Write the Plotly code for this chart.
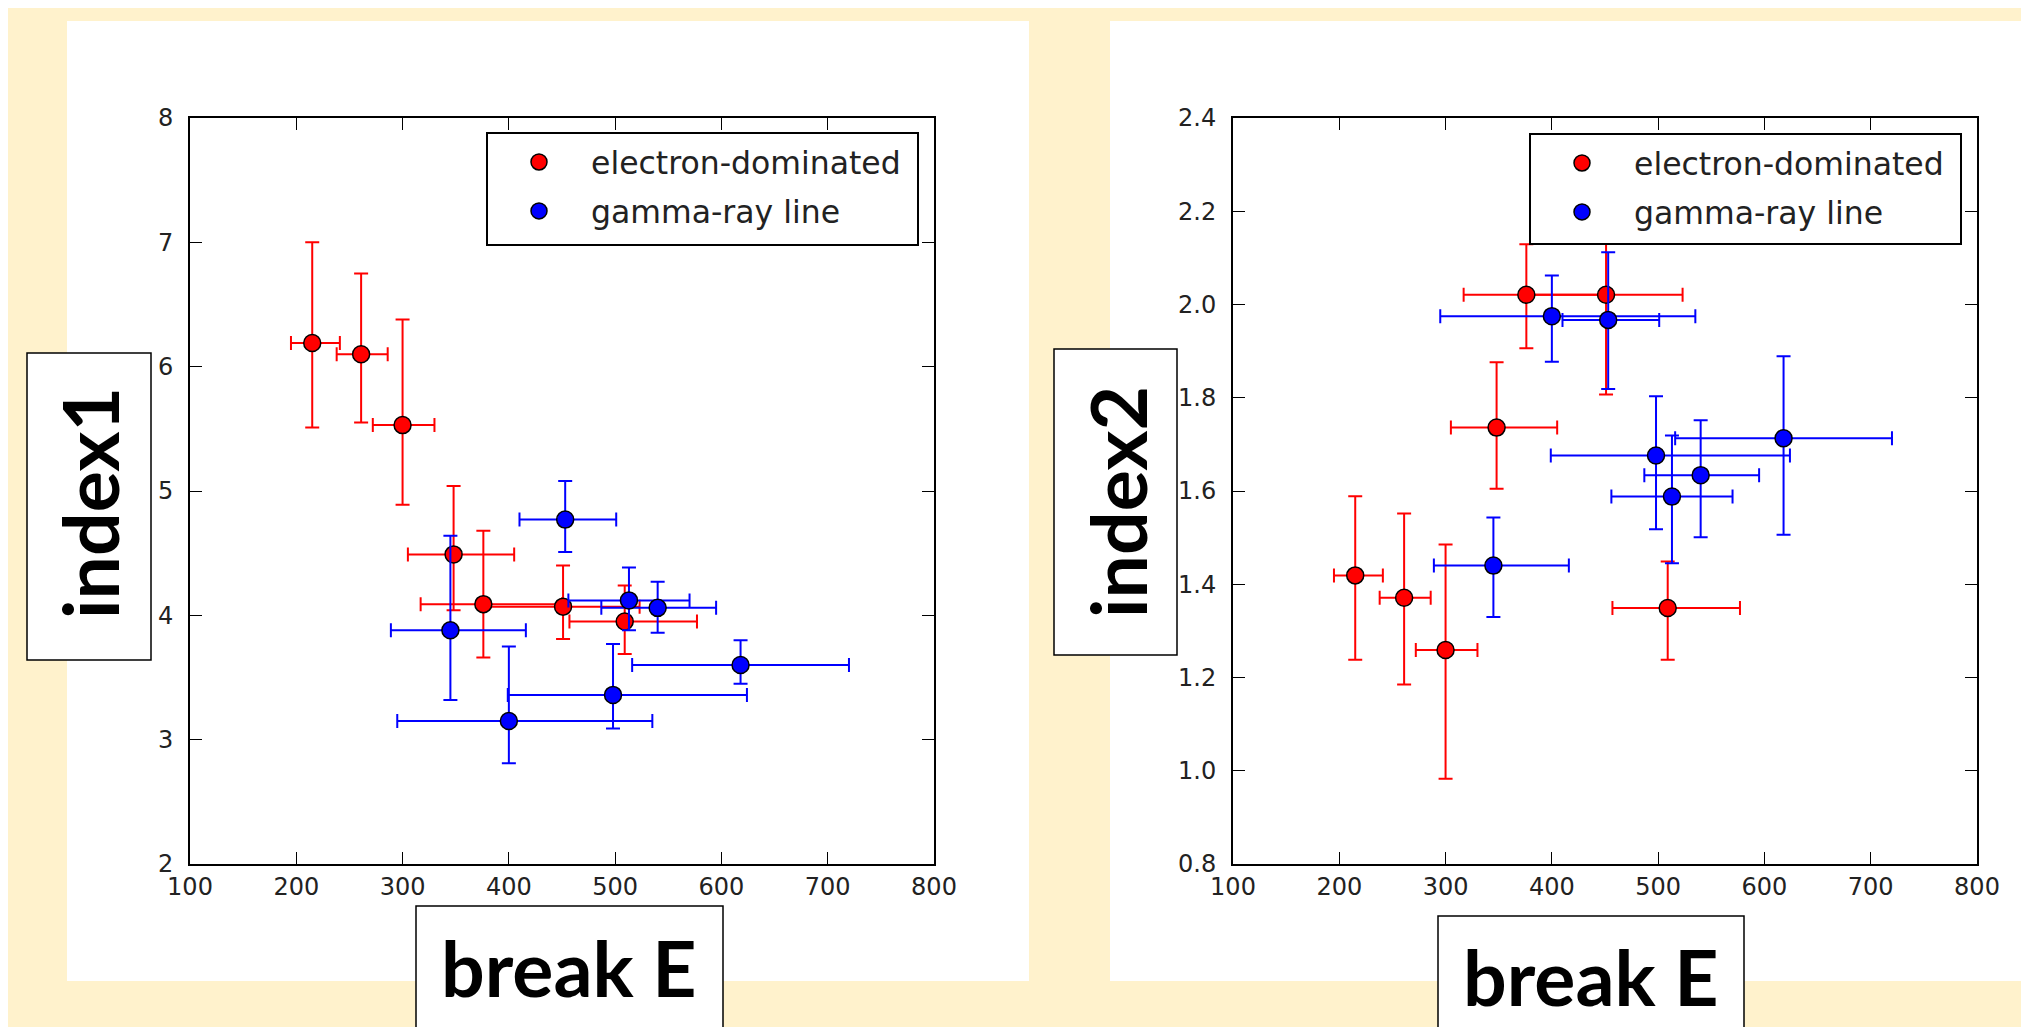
import plotly.graph_objects as go

W, H = 2029, 1027
OFF = 8  # page body margin of the exported html

# ---------------- data ----------------
series_names = ["electron-dominated", "gamma-ray line"]

breakE_red = [215, 261, 300, 348, 376, 451, 509]
breakE_red_minus = [20, 23, 28, 43, 59, 75, 52]
breakE_red_plus = [26, 25, 30, 57, 74, 72, 68]

index1_red = [6.19, 6.10, 5.53, 4.49, 4.09, 4.07, 3.95]
index1_red_plus = [0.81, 0.65, 0.85, 0.55, 0.59, 0.33, 0.29]
index1_red_minus = [0.68, 0.55, 0.64, 0.45, 0.43, 0.26, 0.26]

index2_red = [1.419, 1.371, 1.259, 1.736, 2.021, 2.021, 1.349]
index2_red_plus = [0.170, 0.181, 0.226, 0.140, 0.108, 0.20, 0.100]
index2_red_minus = [0.181, 0.186, 0.276, 0.131, 0.115, 0.214, 0.111]

breakE_blue = [345, 400, 453, 498, 513, 540, 618]
breakE_blue_minus = [56, 105, 43, 99, 57, 53, 102]
breakE_blue_plus = [71, 135, 48, 126, 57, 55, 102]

index1_blue = [3.88, 3.15, 4.77, 3.36, 4.12, 4.06, 3.60]
index1_blue_plus = [0.76, 0.60, 0.31, 0.41, 0.265, 0.21, 0.20]
index1_blue_minus = [0.56, 0.34, 0.26, 0.27, 0.24, 0.20, 0.15]

index2_blue = [1.440, 1.975, 1.967, 1.676, 1.588, 1.634, 1.713]
index2_blue_plus = [0.103, 0.087, 0.145, 0.127, 0.131, 0.118, 0.176]
index2_blue_minus = [0.110, 0.098, 0.148, 0.158, 0.143, 0.133, 0.207]

x_ticks = [100, 200, 300, 400, 500, 600, 700, 800]
y1_ticks = [2, 3, 4, 5, 6, 7, 8]
y2_ticks = [0.8, 1.0, 1.2, 1.4, 1.6, 1.8, 2.0, 2.2, 2.4]

# ---------------- helpers ----------------
def fx(px):
    return (px - OFF) / W

def fy(py):
    return 1 - (py - OFF) / H

RED = "#ff0000"
BLUE = "#0000ff"
TICKFONT = dict(family="DejaVu Sans", size=24, color="#222222")


def add_series(fig, x, xm, xp, y, ym, yp, color, name, xa, ya, legend):
    fig.add_trace(go.Scatter(
        x=x, y=y, mode="markers", name=name,
        xaxis=xa, yaxis=ya, legend=legend, legendgroup=name + legend,
        marker=dict(size=17, color=color, line=dict(color="black", width=1.5)),
        error_x=dict(type="data", symmetric=False, array=xp, arrayminus=xm,
                     color=color, thickness=2, width=7),
        error_y=dict(type="data", symmetric=False, array=yp, arrayminus=ym,
                     color=color, thickness=2, width=7),
    ))


fig = go.Figure()

add_series(fig, breakE_red, breakE_red_minus, breakE_red_plus,
           index1_red, index1_red_minus, index1_red_plus,
           RED, series_names[0], "x", "y", "legend")
add_series(fig, breakE_blue, breakE_blue_minus, breakE_blue_plus,
           index1_blue, index1_blue_minus, index1_blue_plus,
           BLUE, series_names[1], "x", "y", "legend")
add_series(fig, breakE_red, breakE_red_minus, breakE_red_plus,
           index2_red, index2_red_minus, index2_red_plus,
           RED, series_names[0], "x2", "y2", "legend2")
add_series(fig, breakE_blue, breakE_blue_minus, breakE_blue_plus,
           index2_blue, index2_blue_minus, index2_blue_plus,
           BLUE, series_names[1], "x2", "y2", "legend2")

axis_common = dict(
    ticks="inside", ticklen=12, tickwidth=1.3, tickcolor="black",
    showline=True, linewidth=2, linecolor="black", mirror="ticks",
    showgrid=False, zeroline=False, tickfont=TICKFONT,
)

legend_common = dict(
    xanchor="left", yanchor="top",
    bgcolor="rgba(0,0,0,0)", borderwidth=0,
    font=dict(family="DejaVu Sans", size=31.5, color="#222222"),
    itemwidth=94, tracegroupgap=5,
)

fig.update_layout(
    width=W, height=H,
    margin=dict(l=0, r=0, t=0, b=0, pad=0, autoexpand=False),
    paper_bgcolor="#FFF2CC",
    plot_bgcolor="white",
    xaxis=dict(domain=[fx(190), fx(934)], range=[100, 800], tickvals=x_ticks,
               anchor="y", **axis_common),
    yaxis=dict(domain=[fy(864), fy(118)], range=[2, 8], tickvals=y1_ticks,
               anchor="x", ticklabelstandoff=10, **axis_common),
    xaxis2=dict(domain=[fx(1233), fx(1977)], range=[100, 800], tickvals=x_ticks,
                anchor="y2", **axis_common),
    yaxis2=dict(domain=[fy(864), fy(118)], range=[0.8, 2.4], tickvals=y2_ticks,
                tickformat=".1f", anchor="x2", ticklabelstandoff=10, **axis_common),
    legend=dict(x=fx(487), y=fy(135), **legend_common),
    legend2=dict(x=fx(1530), y=fy(136), **legend_common),
    showlegend=True,
)

# white panels
for x0, x1 in [(67, 1029), (1110, 2040)]:
    fig.add_shape(type="rect", xref="paper", yref="paper",
                  x0=fx(x0), x1=fx(x1), y0=fy(981), y1=fy(21),
                  fillcolor="white", line=dict(width=0), layer="below")

# legend frames (drawn above the data, legend entries sit on top)
for x0, x1, y0, y1 in [(487, 918, 133, 245), (1530, 1961, 134, 244)]:
    fig.add_shape(type="rect", xref="paper", yref="paper",
                  x0=fx(x0), x1=fx(x1), y0=fy(y1), y1=fy(y0),
                  fillcolor="white", line=dict(color="black", width=2),
                  layer="above")

# label boxes
LABELFONT = dict(family="Lato", size=77, color="black")
boxes = [
    # (x0, x1, y0, y1)
    (27, 151, 353, 660),
    (1054, 1177, 349, 655),
    (416, 723, 906, 1060),
    (1438, 1744, 916, 1060),
]
for x0, x1, y0, y1 in boxes:
    fig.add_shape(type="rect", xref="paper", yref="paper",
                  x0=fx(x0), x1=fx(x1), y0=fy(y1), y1=fy(y0),
                  fillcolor="white", line=dict(color="black", width=1.5),
                  layer="above")

labels = [
    ("<b>index1</b>", 89, 503, -90),
    ("<b>index2</b>", 1117, 502, -90),
    ("<b>break E</b>", 569, 967, 0),
    ("<b>break E</b>", 1591, 976, 0),
]
for txt, cx, cy, ang in labels:
    fig.add_annotation(text=txt, xref="paper", yref="paper", x=fx(cx), y=fy(cy),
                       xanchor="center", yanchor="middle", showarrow=False,
                       textangle=ang, font=LABELFONT)

fig.write_html("out.html")
